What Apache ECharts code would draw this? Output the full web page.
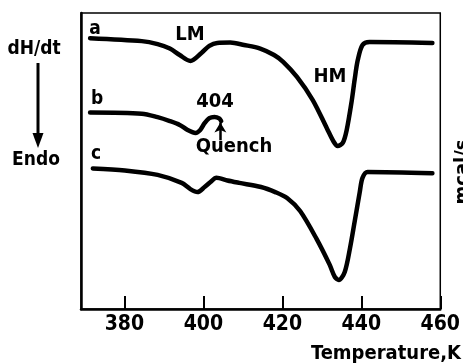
<!DOCTYPE html>
<html><head><meta charset="utf-8">
<script src="https://cdn.jsdelivr.net/npm/echarts@6/dist/echarts.min.js"></script>
<style>html,body{margin:0;padding:0;background:#fff}#c{width:463px;height:364px}</style>
</head><body><div id="c"></div>
<script>
// Temperature (K) and heat-flow (arbitrary mcal/s units)
const curveA = [[371.3,9.15],[384.4,9.05],[388.4,8.95],[391.5,8.80],[394.0,8.58],[396.7,8.38],[399.5,8.65],[401.5,8.89],[403.5,8.99],[406.8,9.00],[410.3,8.92],[414.4,8.80],[417.9,8.58],[420.2,8.35],[423.7,7.84],[427.7,7.06],[431.3,6.10],[433.0,5.65],[434.0,5.51],[435.3,5.61],[436.3,6.05],[437.6,7.06],[438.3,7.74],[439.1,8.41],[440.3,8.92],[442.1,9.02],[458.0,8.99]];
const curveB = [[371.3,6.64],[384.4,6.60],[388.4,6.48],[391.5,6.35],[394.0,6.22],[396.0,6.05],[398.0,5.95],[399.2,6.05],[400.3,6.28],[401.5,6.45],[402.8,6.49],[404.0,6.44],[404.5,6.35]];
const curveC = [[372.0,4.75],[380.1,4.68],[388.4,4.53],[394.5,4.26],[396.7,4.05],[398.5,3.95],[400.3,4.12],[401.8,4.29],[403.3,4.43],[406.1,4.34],[409.1,4.26],[414.6,4.12],[418.2,3.95],[421.2,3.75],[424.5,3.31],[428.7,2.36],[432.0,1.49],[433.3,1.08],[434.3,0.98],[435.8,1.25],[437.1,2.03],[438.3,2.94],[439.6,3.95],[440.3,4.43],[441.6,4.63],[458.0,4.59]];
const xTicks = [380, 400, 420, 440, 460];
const quenchArrow = [[404.3, 5.70], [404.3, 6.30]];

const FONT = '"DejaVu Sans Condensed", "DejaVu Sans", sans-serif';
const chart = echarts.init(document.getElementById('c'), null, {renderer: 'canvas'});
const lineStyle = {color: '#000', width: 4.5, cap: 'round', join: 'round'};
function txt(t, x, y, size) {
  return {type: 'text', x: x, y: y, style: {text: t, fill: '#000', font: 'bold ' + (size || 19) + 'px ' + FONT, textAlign: 'center', textVerticalAlign: 'middle'}};
}
chart.setOption({
  animation: false,
  backgroundColor: '#fff',
  grid: {left: 81, right: 21, top: 13, bottom: 55, show: true, borderColor: '#000', borderWidth: 1.5},
  xAxis: {
    type: 'value', min: 369, max: 460,
    axisLine: {show: true, lineStyle: {color: '#000', width: 2.5}},
    axisTick: {show: true, inside: true, length: 13, customValues: xTicks, lineStyle: {color: '#000', width: 2}},
    axisLabel: {show: true, customValues: xTicks, color: '#000', fontFamily: FONT, fontWeight: 'bold', fontSize: 21, margin: 5},
    splitLine: {show: false}
  },
  yAxis: {
    type: 'value', min: 0, max: 10,
    axisLine: {show: true, lineStyle: {color: '#000', width: 2.5}},
    axisTick: {show: false}, axisLabel: {show: false}, splitLine: {show: false}
  },
  series: [
    {type: 'line', data: curveA, symbol: 'none', smooth: 0.3, lineStyle: lineStyle},
    {type: 'line', data: curveB, symbol: 'none', smooth: 0.3, lineStyle: lineStyle,
     markLine: {silent: true, symbol: ['none', 'arrow'], symbolSize: [9, 10], label: {show: false},
       lineStyle: {color: '#000', width: 2.5, type: 'solid'},
       data: [[{coord: quenchArrow[0]}, {coord: quenchArrow[1]}]]}},
    {type: 'line', data: curveC, symbol: 'none', smooth: 0.3, lineStyle: lineStyle}
  ],
  graphic: [
    txt('a', 95, 29), txt('b', 97, 99), txt('c', 96, 154),
    txt('LM', 190, 35, 20), txt('HM', 330, 77, 20), txt('404', 215, 102, 20), txt('Quench', 234, 147, 20),
    txt('dH/dt', 34, 49), txt('Endo', 36, 160),
    {type: 'line', shape: {x1: 38, y1: 63, x2: 38, y2: 136}, style: {stroke: '#000', lineWidth: 3}},
    {type: 'polygon', shape: {points: [[32.5, 133], [43.5, 133], [38, 148]]}, style: {fill: '#000'}},
    {type: 'text', x: 463, y: 172, rotation: Math.PI / 2, style: {text: 'mcal/s', fill: '#000', font: 'bold 20px ' + FONT, textAlign: 'center', textVerticalAlign: 'middle'}},
    {type: 'text', x: 461, y: 354, style: {text: 'Temperature,K', fill: '#000', font: 'bold 20px ' + FONT, textAlign: 'right', textVerticalAlign: 'middle'}}
  ]
});
</script></body></html>
